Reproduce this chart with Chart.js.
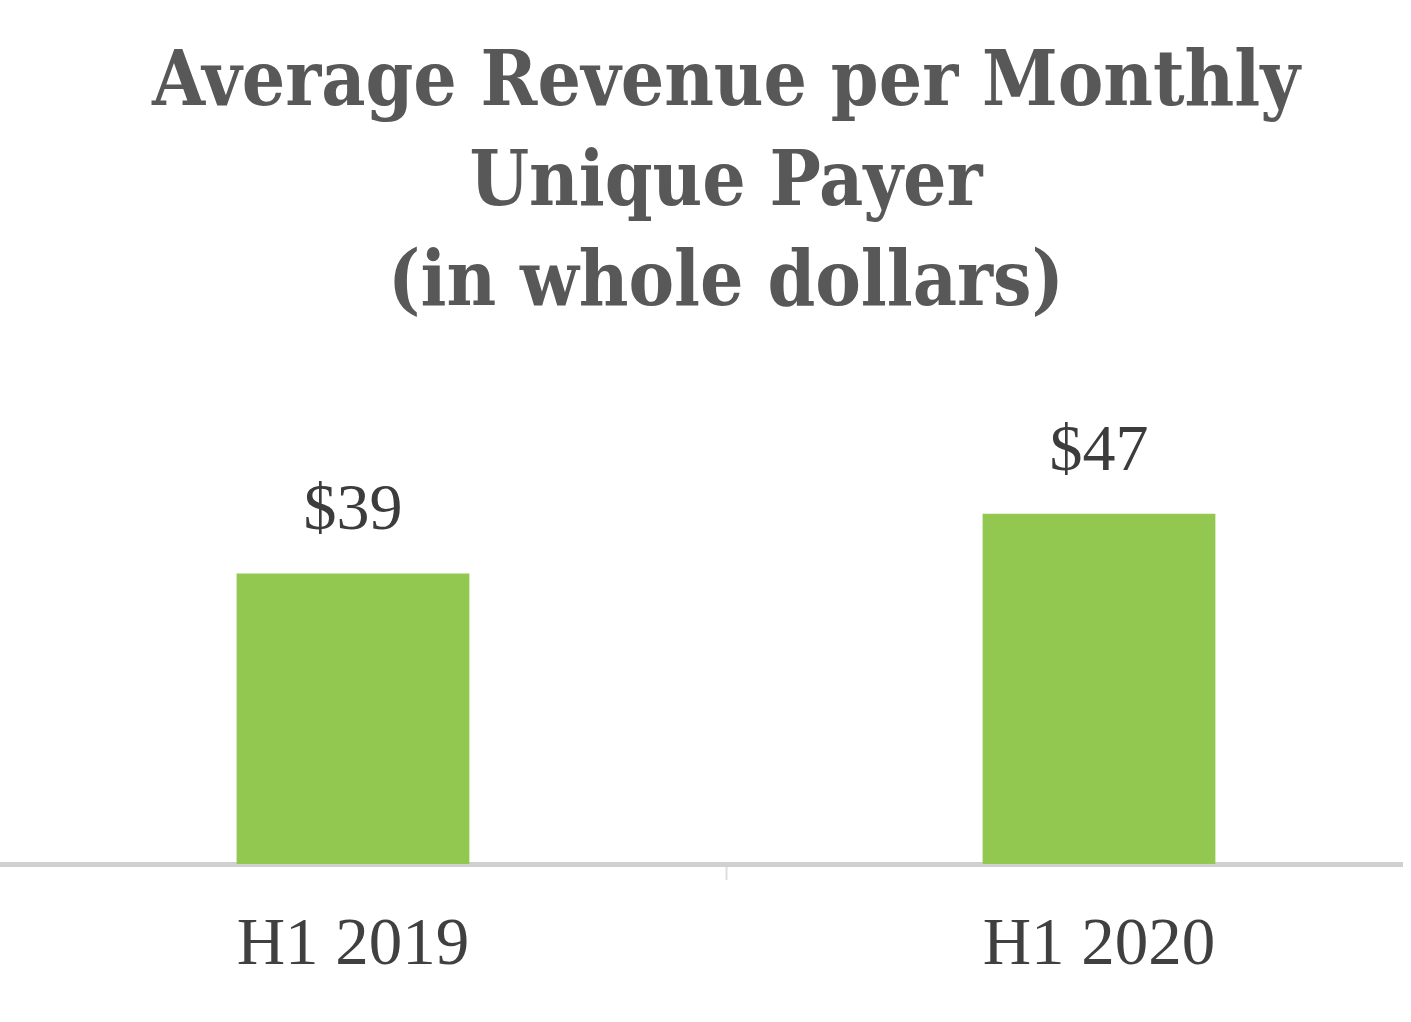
<!DOCTYPE html>
<html>
<head>
<meta charset="utf-8">
<script src="https://cdn.jsdelivr.net/npm/chart.js@4/dist/chart.umd.min.js"></script>
<style>
  html, body { margin: 0; padding: 0; background: #ffffff; overflow: hidden; }
  #wrap { position: absolute; left: 0; top: 0; width: 1403px; height: 1022px; overflow: hidden; }
  #holder { position: absolute; left: -20px; top: 0; width: 1492px; height: 1022px; }
</style>
</head>
<body>
<div id="wrap"><div id="holder"><canvas id="c" width="1492" height="1022"></canvas></div></div>
<script>
const titleLines = ['Average Revenue per Monthly', 'Unique Payer', '(in whole dollars)'];
const categories = ['H1 2019', 'H1 2020'];
const revenueValues = [39, 47];
const valuePrefix = '$';

const valueLabels = {
  id: 'valueLabels',
  afterDatasetsDraw(chart) {
    const ctx = chart.ctx;
    const meta = chart.getDatasetMeta(0);
    ctx.save();
    ctx.font = '66px "Liberation Serif"';
    ctx.fillStyle = '#3c3c3c';
    ctx.textAlign = 'center';
    ctx.textBaseline = 'alphabetic';
    meta.data.forEach((bar, i) => {
      ctx.fillText(valuePrefix + revenueValues[i], bar.x, bar.y - 44);
    });
    ctx.restore();
  }
};

new Chart(document.getElementById('c'), {
  type: 'bar',
  data: {
    labels: categories,
    datasets: [{
      data: revenueValues,
      backgroundColor: '#92c850',
      borderWidth: 0,
      categoryPercentage: 1,
      barPercentage: 0.312
    }]
  },
  options: {
    responsive: false,
    animation: false,
    layout: { padding: 0 },
    plugins: {
      legend: { display: false },
      tooltip: { enabled: false },
      title: {
        display: true,
        text: titleLines,
        color: '#585858',
        font: { family: '"DejaVu Serif Condensed", "DejaVu Serif"', weight: 'bold', size: 76, lineHeight: 100 / 76 },
        padding: { top: 35, bottom: 82 }
      }
    },
    scales: {
      x: {
        offset: true,
        grid: {
          display: true,
          drawOnChartArea: false,
          drawTicks: true,
          tickLength: 16,
          tickWidth: 2,
          tickColor: '#dddddd',
          offset: true
        },
        border: { display: true, color: '#d0d0d0', width: 5 },
        ticks: {
          color: '#404040',
          padding: 26,
          font: { family: '"Liberation Serif"', size: 67 }
        },
        afterFit(scale) { scale.height = 158; }
      },
      y: {
        display: false,
        min: 0,
        max: 60
      }
    }
  },
  plugins: [valueLabels]
});
</script>
</body>
</html>
